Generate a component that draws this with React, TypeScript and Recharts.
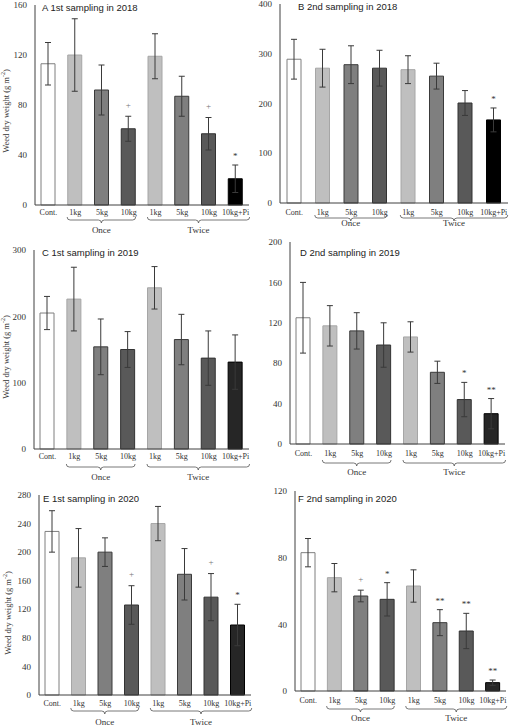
import React from 'react';
import { Bar, BarChart, Cell, ErrorBar, LabelList, XAxis, YAxis } from 'recharts';

const categories = ['Cont.', '1kg', '5kg', '10kg', '1kg', '5kg', '10kg', '10kg+Pi'];
const groupNames = ['Once', 'Twice'];
const yLabel = 'Weed dry weight (g m';

// panel A - 1st sampling 2018
const meanA = [113, 120, 92, 61, 119, 87, 57, 21];
const errA = [17, 29, 20, 10, 18, 16, 13, 11];
const sigA = ['', '', '', '+', '', '', '+', '*'];
const ticksA = [0, 40, 80, 120, 160];

// panel B - 2nd sampling 2018
const meanB = [289, 271, 278, 271, 268, 255, 201, 167];
const errB = [40, 38, 38, 36, 28, 26, 25, 24];
const sigB = ['', '', '', '', '', '', '', '*'];
const ticksB = [0, 100, 200, 300, 400];

// panel C - 1st sampling 2019
const meanC = [205, 226, 154, 150, 243, 165, 137, 131];
const errC = [25, 48, 42, 27, 32, 38, 41, 41];
const sigC = ['', '', '', '', '', '', '', ''];
const ticksC = [0, 100, 200, 300];

// panel D - 2nd sampling 2019
const meanD = [125, 117, 112, 98, 106, 71, 44, 30];
const errD = [35, 20, 18, 22, 15, 11, 17, 15];
const sigD = ['', '', '', '', '', '', '*', '**'];
const ticksD = [0, 40, 80, 120, 160, 200];

// panel E - 1st sampling 2020
const meanE = [229, 192, 200, 126, 240, 169, 137, 98];
const errE = [29, 41, 20, 27, 24, 36, 33, 29];
const sigE = ['', '', '', '+', '', '', '+', '*'];
const ticksE = [0, 40, 80, 120, 160, 200, 240, 280];

// panel F - 2nd sampling 2020
const meanF = [83, 68, 57, 55, 63, 41, 36, 5];
const errF = [8.5, 8.5, 3.5, 10, 9.7, 7.8, 10.6, 1.6];
const sigF = ['', '', '+', '*', '', '**', '**', '**'];
const ticksF = [0, 40, 80, 120];

const serif = '"Liberation Serif", "Times New Roman", serif';
const sans = '"Liberation Sans", Arial, sans-serif';
const ink = '#333';

const baseFills = ['#ffffff', '#bfbfbf', '#7f7f7f', '#595959', '#bfbfbf', '#7f7f7f', '#595959'];
const baseStrokes = ['#7f7f7f', '#a6a6a6', '#3a3a3a', '#333333', '#a6a6a6', '#3a3a3a', '#333333', '#000000'];

type PanelCfg = {
  title: string;
  mean: number[];
  err: number[];
  sig: string[];
  ticks: number[];
  lastFill: string;
  left: number; top: number; width: number; height: number;
  plotL: number; plotT: number; plotR: number; plotB: number;
  tickDy: number; braceDy: number; groupDy: number;
  titleX: number; titleY: number;
  labelX?: number; labelY?: number;
};

const panels: PanelCfg[] = [
  { title: 'A 1st sampling in 2018', mean: meanA, err: errA, sig: sigA, ticks: ticksA, lastFill: '#000000',
    left: 0, top: 0, width: 255, height: 236, plotL: 35, plotT: 5, plotR: 249, plotB: 205,
    tickDy: 7, braceDy: 15, groupDy: 25, titleX: 42, titleY: 8, labelX: 6, labelY: 111 },
  { title: 'B 2nd sampling in 2018', mean: meanB, err: errB, sig: sigB, ticks: ticksB, lastFill: '#000000',
    left: 255, top: 0, width: 255, height: 236, plotL: 280, plotT: 4, plotR: 508, plotB: 203,
    tickDy: 9, braceDy: 15, groupDy: 20, titleX: 298, titleY: 7 },
  { title: 'C 1st sampling in 2019', mean: meanC, err: errC, sig: sigC, ticks: ticksC, lastFill: '#262626',
    left: 0, top: 236, width: 255, height: 246, plotL: 34, plotT: 250, plotR: 249, plotB: 449,
    tickDy: 7, braceDy: 18, groupDy: 28, titleX: 42, titleY: 253, labelX: 6, labelY: 357 },
  { title: 'D 2nd sampling in 2019', mean: meanD, err: errD, sig: sigD, ticks: ticksD, lastFill: '#262626',
    left: 255, top: 236, width: 255, height: 246, plotL: 290, plotT: 242, plotR: 505, plotB: 444,
    tickDy: 9, braceDy: 19, groupDy: 28, titleX: 300, titleY: 253 },
  { title: 'E 1st sampling in 2020', mean: meanE, err: errE, sig: sigE, ticks: ticksE, lastFill: '#262626',
    left: 0, top: 482, width: 255, height: 244, plotL: 39, plotT: 495, plotR: 251, plotB: 695,
    tickDy: 8, braceDy: 16, groupDy: 27, titleX: 43, titleY: 499, labelX: 8, labelY: 613 },
  { title: 'F 2nd sampling in 2020', mean: meanF, err: errF, sig: sigF, ticks: ticksF, lastFill: '#262626',
    left: 255, top: 482, width: 255, height: 244, plotL: 295, plotT: 491, plotR: 506, plotB: 691,
    tickDy: 9, braceDy: 18, groupDy: 27, titleX: 298, titleY: 499 },
];

function bracePath(x1: number, x2: number, yb: number) {
  const cx = (x1 + x2) / 2;
  return `M${x1},${yb - 3} Q${x1},${yb} ${x1 + 3},${yb} L${cx - 3},${yb} Q${cx},${yb} ${cx},${yb + 3} ` +
    `Q${cx},${yb} ${cx + 3},${yb} L${x2 - 3},${yb} Q${x2},${yb} ${x2},${yb - 3}`;
}

function Panel({ cfg }: { cfg: PanelCfg }) {
  const rows = categories.map((c, i) => ({
    key: `${i}-${c}`,
    mean: cfg.mean[i],
    err: cfg.err[i],
    sig: cfg.sig[i],
  }));
  const fills = [...baseFills, cfg.lastFill];
  const yMax = cfg.ticks[cfg.ticks.length - 1];
  const plotH = cfg.plotB - cfg.plotT;
  const band = (cfg.plotR - cfg.plotL) / categories.length;
  const axisY = cfg.plotB - cfg.top;

  const renderTick = (props: any) => {
    const { x, payload } = props;
    const i = payload.index;
    const parts: React.ReactNode[] = [
      <text key="t" x={x} y={axisY + cfg.tickDy} textAnchor="middle" dominantBaseline="central"
        fontFamily={serif} fontSize={8} fill={ink}>{categories[i]}</text>,
    ];
    if (i === 1 || i === 4) {
      const x1 = x - 8;
      const x2 = i === 1 ? x + 2 * band + 7 : x + 3 * band + 14;
      parts.push(
        <path key="b" d={bracePath(x1, x2, axisY + cfg.braceDy)} fill="none" stroke="#555" strokeWidth={0.8} />,
        <text key="g" x={(x1 + x2) / 2} y={axisY + cfg.groupDy} textAnchor="middle" dominantBaseline="central"
          fontFamily={serif} fontSize={9} fill={ink}>{groupNames[i === 1 ? 0 : 1]}</text>,
      );
    }
    return <g>{parts}</g>;
  };

  const renderSig = (props: any) => {
    const { x, y, width, index, value } = props;
    if (!value) return null;
    const errTop = y - (rows[index].err * plotH) / yMax;
    const plus = value === '+';
    return (
      <text x={x + width / 2} y={errTop - (plus ? 8.5 : 6)} textAnchor="middle"
        fontFamily={serif} fontSize={9} fill={plus ? '#777' : '#333'}>{value}</text>
    );
  };

  return (
    <div style={{ position: 'absolute', left: cfg.left, top: cfg.top, width: cfg.width, height: cfg.height }}>
      <BarChart
        width={cfg.width}
        height={cfg.height}
        data={rows}
        style={{ overflow: 'visible' }}
        margin={{ top: cfg.plotT - cfg.top, right: cfg.left + cfg.width - cfg.plotR, bottom: 0, left: 0 }}
      >
        <XAxis dataKey="key" height={cfg.top + cfg.height - cfg.plotB} interval={0} tickLine={false}
          axisLine={{ stroke: '#404040' }} tick={renderTick} />
        <YAxis width={cfg.plotL - cfg.left} domain={[0, yMax]} ticks={cfg.ticks} interval={0} tickLine={false}
          axisLine={{ stroke: '#404040' }} tick={{ fontSize: 9, fill: ink, fontFamily: serif }} />
        <Bar dataKey="mean" barSize={14} strokeWidth={1} isAnimationActive={false}>
          {rows.map((r, i) => <Cell key={r.key} fill={fills[i]} stroke={baseStrokes[i]} />)}
          <ErrorBar dataKey="err" width={3} stroke="#3a3a3a" strokeWidth={1} direction="y" />
          <LabelList dataKey="sig" content={renderSig} />
        </Bar>
      </BarChart>
      <div style={{ position: 'absolute', left: cfg.titleX - cfg.left, top: cfg.titleY - cfg.top - 6, lineHeight: '12px',
        fontFamily: sans, fontSize: 9.5, color: '#222', whiteSpace: 'nowrap' }}>{cfg.title}</div>
      {cfg.labelX !== undefined && (
        <div style={{ position: 'absolute', left: cfg.labelX - cfg.left, top: (cfg.labelY ?? 0) - cfg.top,
          transform: 'translate(-50%, -50%) rotate(-90deg)', whiteSpace: 'nowrap', fontFamily: serif,
          fontSize: 8.5, color: ink, lineHeight: '10px' }}>
          {yLabel}<sup style={{ fontSize: 6, lineHeight: 0 }}>-2</sup>)
        </div>
      )}
    </div>
  );
}

export default function App() {
  return (
    <div style={{ position: 'absolute', left: 0, top: 0, width: 510, height: 726, background: '#fff' }}>
      {panels.map((p) => <Panel key={p.title} cfg={p} />)}
    </div>
  );
}
